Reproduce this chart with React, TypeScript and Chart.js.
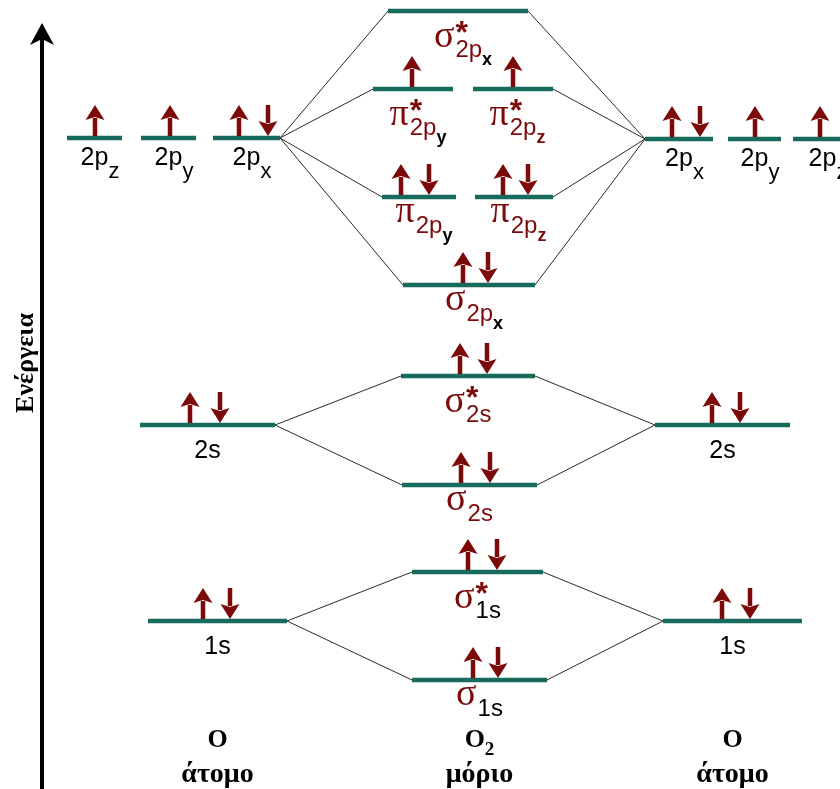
import { useEffect, useRef } from 'react';
import { Chart, registerables } from 'chart.js';

Chart.register(...registerables);

// ---- data (energy units: higher = higher energy) ----
const levelKind = ['AO','AO','AO','AO','AO','AO','MO','MO','MO','MO','MO','MO','AO','AO','MO','MO','AO','AO','MO','MO'];
const levelStart = [67, 141, 213, 645, 728, 793, 388, 373, 473, 382, 475, 403, 140, 655, 401, 402, 148, 663, 412, 412];
const levelEnd = [122, 196, 280, 713, 781, 852, 528, 453, 553, 456, 553, 535, 275, 790, 535, 537, 287, 802, 543, 547];
const levelEnergy = [651, 651, 651, 650, 650, 650, 778, 700, 700, 592, 592, 504, 364, 364, 413, 304, 168, 168, 217, 109];
const spinUpX: (number | null)[] = [95, 170, 239, 672, 755, 820, null, 412, 513, 401, 503, 463, 190, 712, 460, 461, 203, 722, 468, 473];
const spinDownX: (number | null)[] = [null, null, 268, 700, null, null, null, null, null, 429, 528, 488, 220, 740, 487, 490, 230, 750, 497, 498];
const labelMain = ['2p','2p','2p','2p','2p','2p','σ','π','π','π','π','σ','2s','2s','σ','σ','1s','1s','σ','σ'];
const labelStar = [false,false,false,false,false,false,true,true,true,false,false,false,false,false,true,false,false,false,true,false];
const labelSub = ['z','y','x','x','y','z','2p','2p','2p','2p','2p','2p','','','2s','2s','','','1s','1s'];
const labelSubSub = ['','','','','','','x','y','z','y','z','x','','','','','','','',''];
// correlation lines: [atomic orbital index, molecular orbital index]
const correlations: [number, number][] = [
  [2, 6], [2, 7], [2, 9], [2, 11],
  [3, 6], [3, 8], [3, 10], [3, 11],
  [12, 14], [12, 15], [13, 14], [13, 15],
  [16, 18], [16, 19], [17, 18], [17, 19],
];
// column captions, placed under the 1s-type levels
const columnTitle = ['O', 'O', 'O'];
const columnTitleSub = ['', '2', ''];
const columnSubtitle = ['άτομο', 'μόριο', 'άτομο'];
const columnRefLevel = [16, 19, 17];
const axisTitle = 'Ενέργεια';

const TEAL = '#176b5c';
const DARKRED = '#7d0a0a';
const blackSubs = new Set(['1s', 'x', 'y']);

function drawArrow(ctx: CanvasRenderingContext2D, cx: number, base: number, up: boolean) {
  const L = 31, hh = 15, hw = 9.5, sw = 4.5;
  ctx.fillStyle = DARKRED;
  ctx.beginPath();
  if (up) {
    const tip = base - L;
    ctx.fillRect(cx - sw / 2, tip + hh - 2, sw, L - hh + 2);
    ctx.moveTo(cx, tip);
    ctx.lineTo(cx + hw, tip + hh);
    ctx.lineTo(cx, tip + hh - 3);
    ctx.lineTo(cx - hw, tip + hh);
  } else {
    const tail = base - L;
    const tip = base;
    ctx.fillRect(cx - sw / 2, tail, sw, L - hh + 2);
    ctx.moveTo(cx, tip);
    ctx.lineTo(cx + hw, tip - hh);
    ctx.lineTo(cx, tip - hh + 3);
    ctx.lineTo(cx - hw, tip - hh);
  }
  ctx.closePath();
  ctx.fill();
}

const diagramPlugin = {
  id: 'diagram',
  afterDatasetsDraw(chart: any) {
    const { ctx, scales } = chart;
    const px = (v: number) => scales.x.getPixelForValue(v);
    const py = (v: number) => scales.y.getPixelForValue(v);
    ctx.save();

    // electrons
    levelEnergy.forEach((e, i) => {
      const base = py(e) - 2;
      const u = spinUpX[i];
      const d = spinDownX[i];
      if (u != null) drawArrow(ctx, px(u), base, true);
      if (d != null) drawArrow(ctx, px(d), base, false);
    });

    // level labels
    ctx.textAlign = 'left';
    ctx.textBaseline = 'alphabetic';
    levelEnergy.forEach((e, i) => {
      const cx = px((levelStart[i] + levelEnd[i]) / 2);
      const ly = py(e);
      const main = labelMain[i];
      const sub = labelSub[i];
      const subsub = labelSubSub[i];
      if (levelKind[i] === 'AO') {
        ctx.fillStyle = '#000';
        ctx.font = '25px "Liberation Sans", Arial, sans-serif';
        const wM = ctx.measureText(main).width;
        if (sub) {
          const x0 = cx - wM / 2;
          ctx.fillText(main, x0, ly + 27);
          ctx.font = '22px "Liberation Sans", Arial, sans-serif';
          ctx.fillText(sub, x0 + wM, ly + 40);
        } else {
          ctx.fillText(main, cx - wM / 2, ly + 33);
        }
      } else {
        const star = labelStar[i];
        const symFont = '38px "Liberation Serif", "Times New Roman", serif';
        const subFont = '24px "Liberation Sans", Arial, sans-serif';
        const subsubFont = 'bold 18px "Liberation Sans", Arial, sans-serif';
        ctx.font = symFont;
        const wM = ctx.measureText(main).width;
        ctx.font = subFont;
        const wS = ctx.measureText(sub).width;
        const gap = 1;
        const x0 = cx - (wM + gap + wS) / 2;
        const mainBase = ly + (star ? 36 : 25);
        const subBase = ly + (star ? 46 : 36);
        ctx.fillStyle = DARKRED;
        ctx.font = symFont;
        ctx.fillText(main, x0, mainBase);
        const sx = x0 + wM + gap;
        if (star) {
          ctx.fillStyle = DARKRED;
          ctx.font = 'bold 32px "Liberation Sans", Arial, sans-serif';
          ctx.fillText('*', sx, ly + 32);
        }
        ctx.font = subFont;
        ctx.fillStyle = blackSubs.has(sub) ? '#000' : DARKRED;
        ctx.fillText(sub, sx, subBase);
        if (subsub) {
          ctx.font = subsubFont;
          ctx.fillStyle = blackSubs.has(subsub) ? '#000' : DARKRED;
          ctx.fillText(subsub, sx + wS, subBase + 8);
        }
      }
    });

    // column captions
    columnTitle.forEach((t, k) => {
      const ref = columnRefLevel[k];
      const cx = px((levelStart[ref] + levelEnd[ref]) / 2);
      ctx.fillStyle = '#000';
      ctx.font = 'bold 26px "Liberation Serif", "Times New Roman", serif';
      const wT = ctx.measureText(t).width;
      const sub = columnTitleSub[k];
      ctx.font = 'bold 19px "Liberation Serif", "Times New Roman", serif';
      const wS = sub ? ctx.measureText(sub).width : 0;
      const x0 = cx - (wT + wS) / 2;
      ctx.textAlign = 'left';
      ctx.font = 'bold 26px "Liberation Serif", "Times New Roman", serif';
      ctx.fillText(t, x0, 747);
      if (sub) {
        ctx.font = 'bold 19px "Liberation Serif", "Times New Roman", serif';
        ctx.fillText(sub, x0 + wT, 755);
      }
      ctx.textAlign = 'center';
      ctx.font = 'bold 28px "Liberation Serif", "Times New Roman", serif';
      ctx.fillText(columnSubtitle[k], cx, 782);
      ctx.textAlign = 'left';
    });

    // energy axis
    const axX = 42;
    ctx.fillStyle = '#000';
    ctx.fillRect(axX - 2, 36, 4, 789 - 36);
    ctx.beginPath();
    ctx.moveTo(axX, 23);
    ctx.lineTo(axX + 12, 45);
    ctx.lineTo(axX, 39);
    ctx.lineTo(axX - 12, 45);
    ctx.closePath();
    ctx.fill();
    ctx.save();
    ctx.translate(33, 363);
    ctx.rotate(-Math.PI / 2);
    ctx.textAlign = 'center';
    ctx.font = 'bold 26px "Liberation Serif", "Times New Roman", serif';
    ctx.fillText(axisTitle, 0, 0);
    ctx.restore();

    ctx.restore();
  },
};

export default function App() {
  const ref = useRef<HTMLCanvasElement>(null);
  useEffect(() => {
    const levelSets = levelEnergy.map((e, i) => ({
      data: [{ x: levelStart[i], y: e }, { x: levelEnd[i], y: e }],
      showLine: true,
      borderColor: TEAL,
      borderWidth: 4.5,
      borderCapStyle: 'butt' as const,
      pointRadius: 0,
      order: 0,
    }));
    const corrSets = correlations.map(([a, m]) => {
      const aoLeft = (levelStart[a] + levelEnd[a]) / 2 < (levelStart[m] + levelEnd[m]) / 2;
      const ax = aoLeft ? levelEnd[a] : levelStart[a];
      const mx = aoLeft ? levelStart[m] : levelEnd[m];
      return {
        data: [{ x: ax, y: levelEnergy[a] }, { x: mx, y: levelEnergy[m] }],
        showLine: true,
        borderColor: '#2a2a2a',
        borderWidth: 1,
        pointRadius: 0,
        order: 1,
      };
    });
    const chart = new Chart(ref.current!, {
      type: 'scatter',
      data: { datasets: [...levelSets, ...corrSets] as any },
      options: {
        animation: false,
        responsive: true,
        maintainAspectRatio: false,
        layout: { padding: 0 },
        plugins: { legend: { display: false }, tooltip: { enabled: false } },
        events: [],
        scales: {
          x: { type: 'linear', min: 0, max: 840, display: false },
          y: { type: 'linear', min: 0, max: 789, display: false },
        },
      },
      plugins: [diagramPlugin],
    });
    return () => chart.destroy();
  }, []);
  return (
    <div style={{ position: 'absolute', left: 0, top: 0, width: 840, height: 789, background: '#fff', overflow: 'hidden' }}>
      <canvas ref={ref} />
    </div>
  );
}
